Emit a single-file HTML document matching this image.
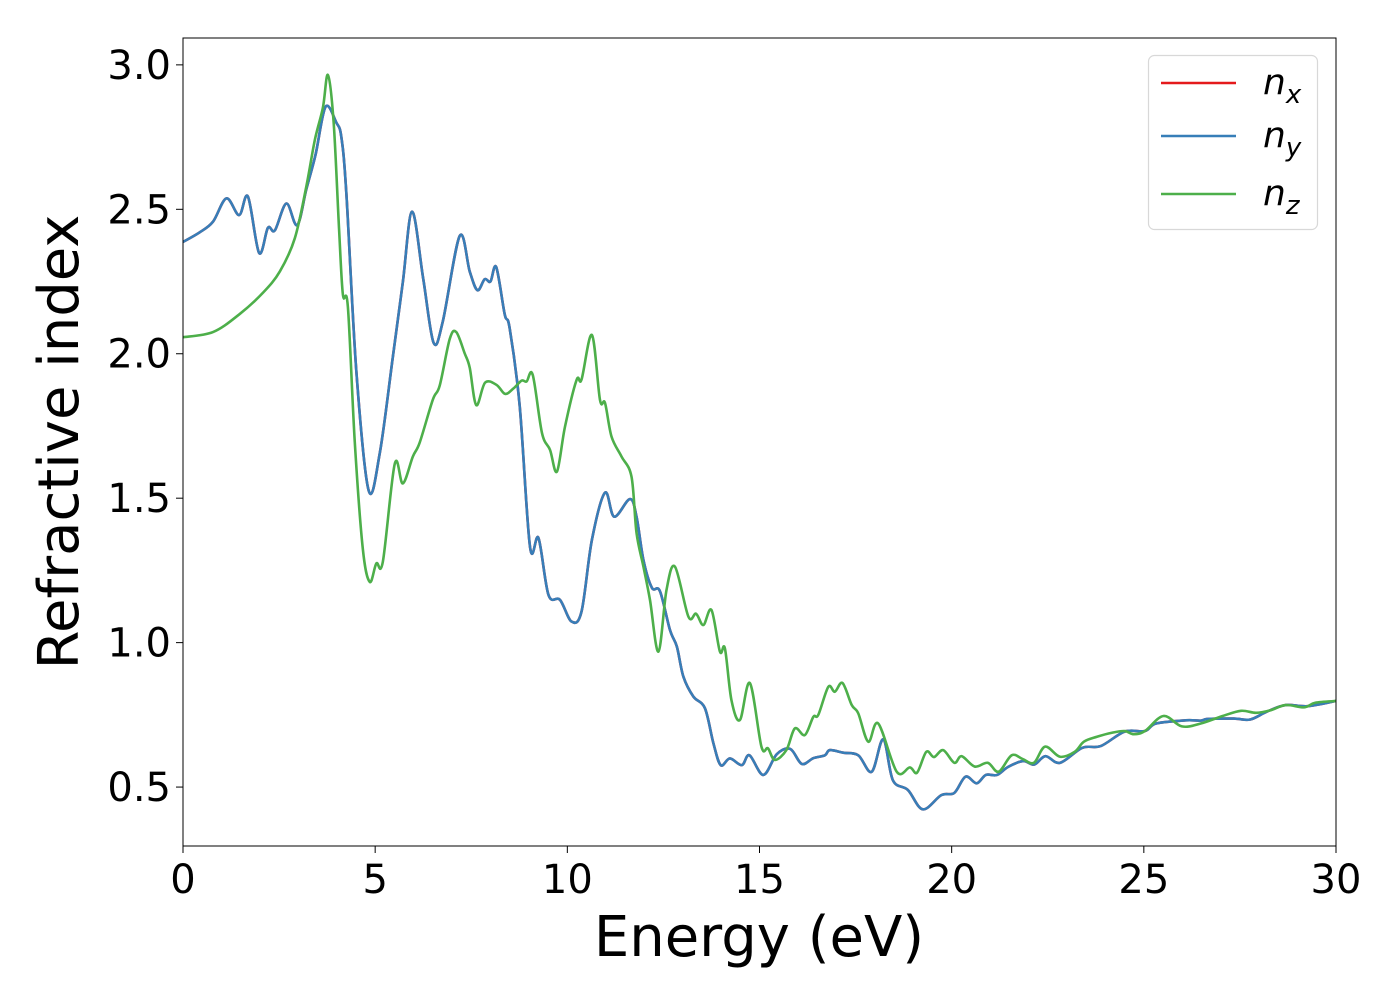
<!DOCTYPE html>
<html><head><meta charset="utf-8"><style>
html,body{margin:0;padding:0;background:#fff;}
svg{display:block;font-family:"DejaVu Sans","Liberation Sans",sans-serif;}
</style></head><body>
<svg id="chart" width="1400" height="1000" viewBox="0 0 1400 1000" xmlns="http://www.w3.org/2000/svg">
<g id="plot"></g>
</svg>
<script>
const xTicks=[0,5,10,15,20,25,30];
const yTicks=[0.5,1.0,1.5,2.0,2.5,3.0];
const yTickLabels=["0.5","1.0","1.5","2.0","2.5","3.0"];
const energyY=[0,0.43,0.78,1.13,1.46,1.69,1.98,2.21,2.39,2.69,2.97,3.21,3.45,3.71,3.99,4.12,4.25,4.51,4.83,5.12,5.46,5.72,5.96,6.25,6.52,6.76,7.2,7.46,7.66,7.85,8.0,8.15,8.37,8.5,8.76,9.03,9.25,9.51,9.81,10.11,10.37,10.64,10.98,11.22,11.63,11.8,11.98,12.2,12.41,12.67,12.85,13.02,13.28,13.58,13.8,13.99,14.23,14.54,14.74,15.1,15.45,15.8,16.1,16.4,16.7,16.83,17.18,17.57,17.92,18.22,18.47,18.86,19.25,19.73,20.07,20.36,20.65,20.89,21.18,21.47,21.86,22.15,22.44,22.82,23.4,23.88,24.5,25.03,25.32,26.09,26.48,26.67,27.34,27.77,28.2,28.69,29.27,30];
const nY=[2.387,2.42,2.457,2.538,2.48,2.544,2.349,2.436,2.427,2.52,2.445,2.57,2.69,2.855,2.8,2.75,2.556,1.94,1.527,1.656,1.989,2.248,2.492,2.26,2.038,2.112,2.408,2.285,2.22,2.258,2.25,2.3,2.137,2.088,1.82,1.331,1.362,1.165,1.148,1.073,1.108,1.356,1.519,1.436,1.497,1.436,1.286,1.19,1.178,1.044,0.986,0.882,0.813,0.773,0.652,0.576,0.599,0.576,0.61,0.542,0.614,0.632,0.58,0.6,0.61,0.628,0.619,0.61,0.553,0.665,0.524,0.49,0.423,0.472,0.48,0.536,0.513,0.542,0.542,0.57,0.59,0.578,0.607,0.584,0.636,0.642,0.692,0.694,0.72,0.731,0.73,0.736,0.737,0.734,0.761,0.784,0.78,0.798];
const nX=nY.map(v=>v);
const energyZ=[0,0.78,1.47,2.08,2.52,2.91,3.21,3.43,3.64,3.77,3.92,4.06,4.16,4.29,4.47,4.68,4.86,5.03,5.2,5.51,5.72,5.98,6.16,6.5,6.68,6.94,7.11,7.33,7.46,7.63,7.86,8.16,8.38,8.6,8.81,8.94,9.1,9.34,9.55,9.73,9.94,10.24,10.37,10.64,10.85,10.98,11.15,11.41,11.67,11.8,11.98,12.15,12.37,12.58,12.8,13.15,13.35,13.54,13.75,13.97,14.1,14.27,14.49,14.75,15.05,15.22,15.4,15.7,15.92,16.18,16.4,16.53,16.79,16.96,17.16,17.4,17.57,17.83,18.09,18.57,18.91,19.1,19.34,19.54,19.78,20.07,20.26,20.6,20.94,21.22,21.56,21.85,22.14,22.43,22.82,23.2,23.44,23.78,24.17,24.5,24.74,25.03,25.51,25.99,26.48,27.05,27.53,27.92,28.3,28.69,29.17,29.46,30];
const nZ=[2.057,2.075,2.137,2.211,2.285,2.4,2.58,2.74,2.852,2.965,2.8,2.433,2.205,2.162,1.693,1.323,1.21,1.274,1.28,1.619,1.551,1.644,1.693,1.841,1.89,2.051,2.075,2.001,1.952,1.822,1.9,1.892,1.861,1.88,1.907,1.904,1.927,1.726,1.667,1.592,1.748,1.909,1.911,2.065,1.84,1.83,1.713,1.644,1.574,1.38,1.263,1.148,0.969,1.182,1.263,1.09,1.1,1.061,1.113,0.969,0.98,0.801,0.732,0.86,0.64,0.634,0.594,0.628,0.703,0.68,0.743,0.75,0.847,0.83,0.86,0.784,0.755,0.657,0.72,0.553,0.568,0.55,0.622,0.604,0.628,0.584,0.607,0.571,0.584,0.553,0.61,0.597,0.584,0.64,0.605,0.622,0.657,0.674,0.688,0.694,0.683,0.694,0.746,0.71,0.72,0.746,0.764,0.757,0.766,0.784,0.776,0.792,0.798];

const L=183,R=1336,T=38,B=846;
const xMin=0,xMax=30,yMin=0.296,yMax=3.093;
const xs=v=>L+(v-xMin)/(xMax-xMin)*(R-L);
const ys=v=>B-(v-yMin)/(yMax-yMin)*(B-T);
const NS="http://www.w3.org/2000/svg";
const g=document.getElementById('plot');
function mk(tag,attrs,parent){const e=document.createElementNS(NS,tag);for(const k in attrs)e.setAttribute(k,attrs[k]);(parent||g).appendChild(e);return e;}
function smoothPath(xa,ya){
  const p=xa.map((x,i)=>[xs(x),ys(ya[i])]);
  let d=`M${p[0][0].toFixed(2)},${p[0][1].toFixed(2)}`;
  for(let i=0;i<p.length-1;i++){
    const p0=p[Math.max(0,i-1)],p1=p[i],p2=p[i+1],p3=p[Math.min(p.length-1,i+2)];
    const c1x=p1[0]+(p2[0]-p0[0])/6,c1y=p1[1]+(p2[1]-p0[1])/6;
    const c2x=p2[0]-(p3[0]-p1[0])/6,c2y=p2[1]-(p3[1]-p1[1])/6;
    d+=`C${c1x.toFixed(2)},${c1y.toFixed(2)} ${c2x.toFixed(2)},${c2y.toFixed(2)} ${p2[0].toFixed(2)},${p2[1].toFixed(2)}`;
  }
  return d;
}
const clip=mk('clipPath',{id:'clipArea'});
mk('rect',{x:L,y:T,width:R-L,height:B-T},clip);
const lines=mk('g',{'clip-path':'url(#clipArea)'});


const sx=mk('path',{d:smoothPath(energyY,nX),fill:'none',stroke:'#e41a1c','stroke-width':2.6},lines);


const sy=mk('path',{d:smoothPath(energyY,nY),fill:'none',stroke:'#377eb8','stroke-width':2.6},lines);


const sz=mk('path',{d:smoothPath(energyZ,nZ),fill:'none',stroke:'#4daf4a','stroke-width':2.6},lines);



const frame=mk('rect',{x:L,y:T,width:R-L,height:B-T,fill:'none',stroke:'#000','stroke-width':1});



xTicks.forEach(v=>{
  const x=xs(v);
  const t=mk('line',{x1:x,x2:x,y1:B,y2:B+7,stroke:'#000','stroke-width':1});
  
  
  const tx=mk('text',{x:x,y:893,'font-size':40,'text-anchor':'middle',fill:'#000'});
  tx.textContent=String(v);
  
  
});
yTicks.forEach((v,i)=>{
  const y=ys(v);
  const t=mk('line',{x1:L-7,x2:L,y1:y,y2:y,stroke:'#000','stroke-width':1});
  
  
  const tx=mk('text',{x:171,y:y+14,'font-size':40,'text-anchor':'end',fill:'#000'});
  tx.textContent=yTickLabels[i];
  
  
});
const xt=mk('text',{x:759,y:956,'font-size':56,'text-anchor':'middle',fill:'#000'});
xt.textContent='Energy (eV)';


const yt=mk('text',{x:0,y:0,'font-size':56,'text-anchor':'middle',fill:'#000',transform:'translate(78,442) rotate(-90)'});
yt.textContent='Refractive index';



const leg=mk('g',{});


mk('rect',{x:1148.5,y:55.5,width:169,height:174,rx:6,fill:'#fff',stroke:'#d8d8d8','stroke-width':1.2},leg);
const legNames=['x','y','z'];
const legColors=['#e41a1c','#377eb8','#4daf4a'];
const legY=[83,136,194];
legNames.forEach((s,i)=>{
  const e=mk('g',{},leg);
  
  
  mk('line',{x1:1161,x2:1236,y1:legY[i],y2:legY[i],stroke:legColors[i],'stroke-width':2.6},e);
  const t=mk('text',{x:1263,y:legY[i]+11,'font-size':36,'font-style':'italic',fill:'#000'},e);
  t.textContent='n';
  const sub=mk('tspan',{'font-size':26,dy:9},t);
  sub.textContent=s;
});
</script>
</body></html>
